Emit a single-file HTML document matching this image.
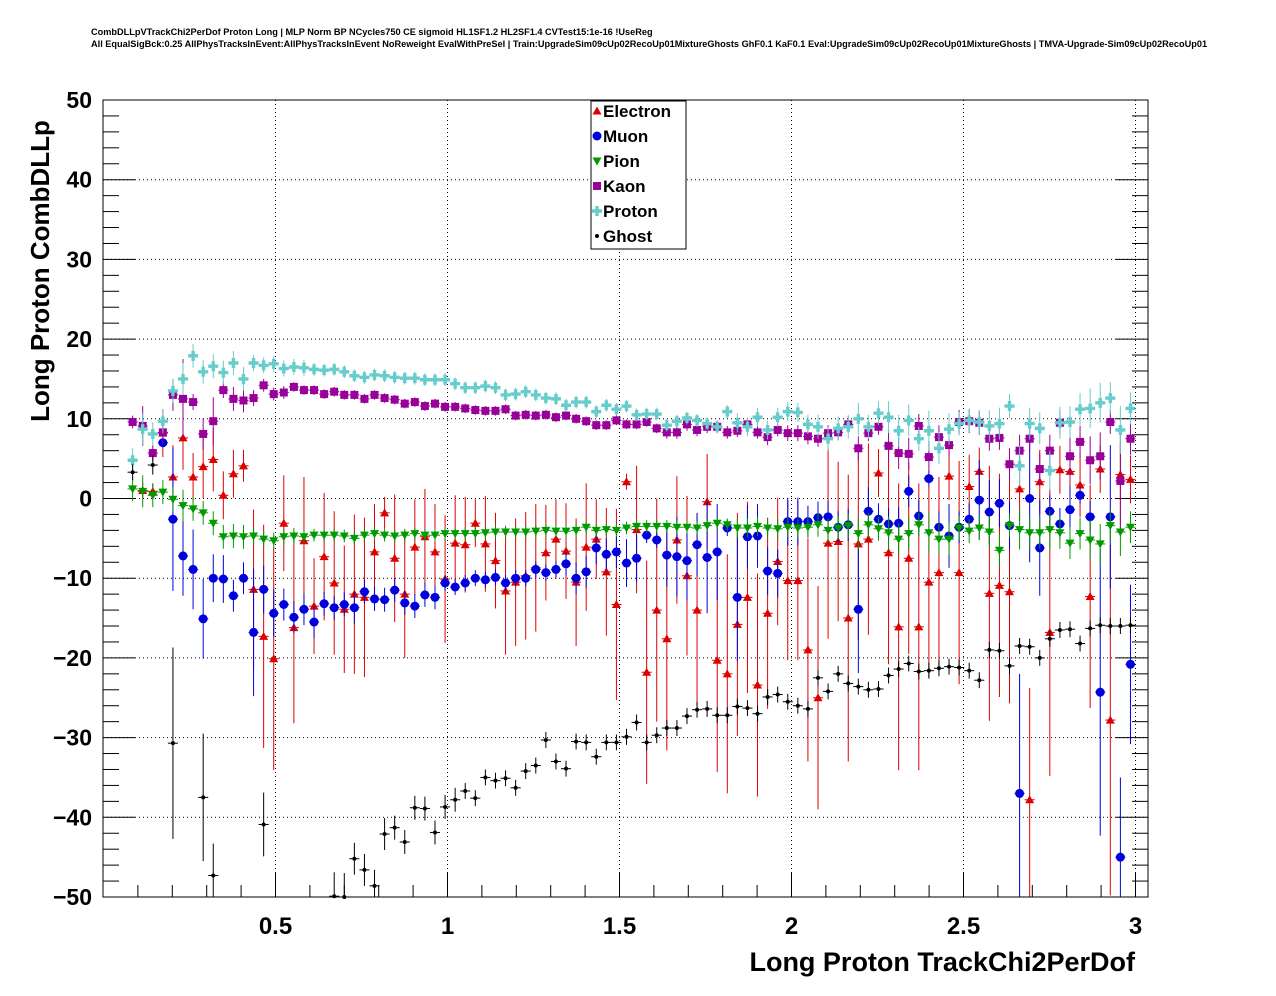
<!DOCTYPE html>
<html><head><meta charset="utf-8"><style>
html,body{margin:0;padding:0;background:#fff;}
svg{display:block;font-family:"Liberation Sans",sans-serif;}
</style></head><body>
<svg id="chart" width="1276" height="996" viewBox="0 0 1276 996">
<text x="91" y="35" font-size="9.2" font-weight="bold">CombDLLpVTrackChi2PerDof Proton Long | MLP Norm BP NCycles750 CE sigmoid HL1SF1.2 HL2SF1.4 CVTest15:1e-16 !UseReg</text>
<text x="91" y="47" font-size="9.2" font-weight="bold">All EqualSigBck:0.25 AllPhysTracksInEvent:AllPhysTracksInEvent NoReweight EvalWithPreSel | Train:UpgradeSim09cUp02RecoUp01MixtureGhosts GhF0.1 KaF0.1 Eval:UpgradeSim09cUp02RecoUp01MixtureGhosts | TMVA-Upgrade-Sim09cUp02RecoUp01</text>
<g id="grid"></g>
<g id="axes"></g>
<g id="marks"></g>
<rect x="103" y="100" width="1045" height="797" fill="none" stroke="#000" stroke-width="1"/>
<text x="1135" y="971" font-size="27" font-weight="bold" text-anchor="end">Long Proton TrackChi2PerDof</text>
<text transform="translate(49,271) rotate(-90)" font-size="26" font-weight="bold" text-anchor="middle">Long Proton CombDLLp</text>
<g id="legend"></g>
</svg>
<script>
const NS="http://www.w3.org/2000/svg";
const xMin=0.07, xMax=3.0, nBins=100;
const xTicks=[0.5,1,1.5,2,2.5,3];
const xTickLabels=["0.5","1","1.5","2","2.5","3"];
const yTicks=[-50,-40,-30,-20,-10,0,10,20,30,40,50];
const yTickLabels=["\u221250","\u221240","\u221230","\u221220","\u221210","0","10","20","30","40","50"];
const seriesNames=["Electron","Muon","Pion","Kaon","Proton","Ghost"];
const N=null;
const electron=[N,1.0,0.9,8.2,2.7,7.6,2.7,4.0,4.9,0.4,3.1,4.1,-11.4,-17.3,-20.1,-3.1,-16.2,-5.3,-13.5,-7.3,-10.6,-13.9,-12.0,-12.4,-6.7,-1.8,-7.5,-12.0,-6.1,-4.8,-6.7,
-10.1,-5.6,-5.8,-3.1,-5.7,-7.8,-11.6,-10.5,-9.7,-8.7,-6.8,-5.1,-6.6,-10.5,-6.1,-5.1,-9.2,-13.3,2.1,-3.9,-21.8,-14.0,-17.6,-5.2,-9.7,-14.0,-0.4,-20.3,-22.0,-15.8,-12.4,-23.4,-14.4,-7.9,-10.3,
-10.3,-19.0,-25.0,-5.6,-5.4,-15.0,-5.7,-5.1,3.2,-6.8,-16.1,-7.5,-16.1,-10.5,-9.3,2.8,-9.3,1.5,3.4,-11.9,-10.9,-11.7,1.2,-37.8,2.1,-16.8,3.6,3.4,1.7,-12.3,3.7,-27.8,3.0,2.4];
const electronErr=[0,1,1,3,4,4,3,4,4,3,3,2,10,14,14,6,12,8,6,8,9,8,10,10,6,2,8,8,6,6,6,
8,6,6,3,6,6,8,8,8,8,6,5,6,8,8,5,8,12,1,8,14,14,14,8,10,12,6,14,15,14,12,14,12,8,10,
10,14,14,12,10,18,12,12,3,14,18,12,18,12,12,3,14,4,3,16,14,14,4,14,4,18,3,3,4,14,3,22,4,3];
const muon=[N,N,N,7.0,-2.6,-7.2,-8.9,-15.1,-10.0,-10.1,-12.2,-10.0,-16.8,-11.4,-14.4,-13.3,-14.9,-13.9,-15.5,-13.2,-13.7,-13.3,-13.7,-11.7,-12.6,-12.7,-11.5,-13.1,-13.5,-12.1,-12.4,
-10.6,-11.1,-10.6,-10.0,-10.2,-9.9,-10.6,-10.0,-10.0,-8.9,-9.3,-8.9,-8.2,-10.0,-9.2,-6.2,-7.0,-6.7,-8.1,-7.5,-4.6,-5.2,-7.1,-7.3,-7.8,-5.8,-7.4,-6.7,-3.7,-12.4,-4.8,-4.7,-9.1,-9.4,-2.9,
-2.9,-2.9,-2.4,-2.3,-3.6,-3.3,-13.9,-1.6,-2.6,-3.2,-3.1,0.9,-2.2,2.5,-3.6,-4.7,-3.6,-2.6,-0.2,-1.7,-0.6,-3.4,-37.0,0.0,-6.2,-1.6,-3.2,-1.4,0.4,-2.3,-24.3,-2.3,-45.0,-20.8];
const muonErr=[0,0,0,0.5,9,5,5,5,3,3,2,2,8,3,3,2,2,2,2,1.5,1.5,1.5,2,1.5,1.5,1.5,1.5,1.5,1.5,1.5,1.5,
1,1,1,1,1,1,1,1,1,1,1,1,1.5,2,2,2,2,2,3,3,1,1,4,5,5,4,7,6,1,8,4,4,3,3,3,
3,2,2,2,2,2,8,3,2,2,2,2,2,1,2,4,2,2,5,4,3,3,15,8,6,2,2,3,1,2,18,9,10,10];
const pion=[1.2,0.9,0.4,0.8,-0.1,-0.9,-1.3,-1.8,-3.1,-4.8,-4.7,-4.8,-4.7,-5.1,-5.3,-4.8,-4.7,-4.8,-4.6,-4.6,-4.6,-4.7,-5.0,-4.6,-4.4,-4.6,-4.7,-4.6,-4.4,-4.6,-4.6,
-4.4,-4.4,-4.4,-4.4,-4.3,-4.2,-4.2,-4.2,-4.2,-4.1,-4.0,-4.1,-4.1,-4.0,-3.6,-4.0,-3.9,-4.0,-3.7,-3.5,-3.5,-3.5,-3.5,-3.6,-3.6,-3.7,-3.4,-3.1,-3.3,-3.7,-3.7,-3.5,-3.7,-3.8,-3.6,
-3.7,-3.6,-3.3,-4.0,-3.7,-3.4,-4.4,-3.3,-3.8,-4.3,-5.1,-4.4,-3.3,-4.3,-5.1,-5.1,-3.7,-4.1,-3.7,-4.2,-6.5,-3.4,-3.9,-4.3,-4.3,-3.9,-4.3,-5.6,-4.4,-5.2,-5.7,-3.4,-4.2,-3.6];
const kaon=[9.6,9.1,5.7,8.3,13.0,12.5,12.1,8.1,9.7,13.6,12.5,12.3,12.6,14.2,13.1,13.3,14.0,13.6,13.6,13.1,13.4,13.0,13.0,12.5,13.0,12.6,12.4,11.9,12.1,11.6,11.9,
11.5,11.5,11.3,11.1,11.0,11.0,11.2,10.4,10.5,10.4,10.5,10.2,10.4,10.0,9.7,9.2,9.2,9.8,9.3,9.3,9.6,8.8,8.3,8.3,9.3,8.6,9.0,9.0,8.3,8.5,9.3,8.3,7.7,8.6,8.2,
8.2,7.8,7.5,8.2,8.3,9.3,6.3,8.2,9.0,6.6,5.7,5.6,9.1,5.2,7.7,6.7,9.6,9.7,9.5,7.5,7.6,4.3,6.0,7.5,3.7,6.0,9.5,5.3,7.1,4.8,5.3,9.6,2.2,7.5];
const proton=[4.8,8.7,8.1,9.7,13.5,15.0,17.9,15.9,16.6,15.8,17.0,15.0,17.0,16.7,16.9,16.3,16.5,16.4,16.2,16.1,16.2,15.9,15.4,15.2,15.5,15.4,15.2,15.1,15.1,14.9,14.9,
14.9,14.4,13.9,13.9,14.1,13.9,13.0,13.1,13.4,13.0,12.6,12.5,11.7,12.1,12.1,10.9,11.7,11.2,11.6,10.5,10.6,10.6,9.2,9.7,10.1,9.8,9.4,9.0,10.9,9.5,9.0,10.2,8.6,10.2,10.9,
10.8,9.3,9.0,7.5,8.8,9.0,10.0,9.0,10.7,10.2,8.5,9.8,7.5,8.5,6.3,8.7,9.4,9.8,9.6,9.1,9.4,11.6,4.1,9.4,8.8,3.5,9.5,9.6,11.2,11.3,12.0,12.6,8.6,11.3];
const ghost=[3.3,N,4.2,N,-30.7,N,N,-37.5,-47.3,N,N,N,N,-40.9,N,N,N,N,N,N,-49.9,-50.0,-45.2,-46.6,-48.6,-42.1,-41.3,-43.1,-38.8,-38.9,-41.9,
-38.7,-37.8,-36.7,-37.6,-35.0,-35.4,-35.1,-36.3,-34.2,-33.5,-30.3,-33.0,-33.9,-30.5,-30.6,-32.4,-30.6,-30.6,-29.9,-28.1,-30.6,-29.7,-28.8,-28.8,-27.3,-26.5,-26.4,-27.2,-27.2,-26.1,-26.3,-27.0,-24.9,-24.6,-25.5,
-26.0,-26.4,-22.5,-24.2,-22.0,-23.2,-23.6,-24.0,-23.9,-22.2,-21.4,-20.7,-21.7,-21.6,-21.3,-21.1,-21.2,-21.6,-22.8,-19.0,-19.1,-21.0,-18.5,-18.6,-20.0,-17.6,-16.5,-16.4,-18.2,-16.3,-15.9,-16.0,-16.0,-15.9];
const ghostErr=[1,0,1.2,0,12,0,0,8,4,0,0,0,0,4,0,0,0,0,0,0,3,3,2,2,2,2,1.5,1.5,1.5,1.5,1.5,
1.5,1.5,1,1,1,1,1,1,1,1,1,1,1,1,1,1,1,1,1,1,1,1,1,1,1,1,1,1,1,1,1,1,1,1,1,
1,1,1,1,1,1,1,1,1,1,1,1,1,1,1,1,1,1,1,1,1,1,1,1,1,1,1,1,1,1,1,1,1,1];
const smallErr=[1.5,2,1.5,1.5,1.5,2,1.5,1.5,1.5,1.5,1.5,1.5,1,1,1,1,1,1,0.8,0.8,0.8,0.8,0.8,0.8,0.8,0.8,0.8,0.8,0.8,0.8,0.8,
0.8,0.8,0.8,0.8,0.8,0.8,0.8,0.8,0.8,0.8,0.8,0.8,0.8,0.8,0.8,0.8,0.8,0.8,0.8,0.8,0.8,0.8,0.8,0.8,0.8,0.8,0.8,0.8,0.8,1.2,1.2,1.2,1.2,1.2,1.2,
1.2,1.2,1.5,1.5,1.5,1.5,2,1.5,1.5,2,2,2,1.5,2.5,2,2,1.5,1.5,1.5,2,2,1.5,2.5,2,2,2.5,2,2,2,2.5,2.5,2,3,2];
const kaonErr=[0.8,2.5,1,1.5,2,5,1,2,3,1,1.5,1.5,1,0.8,0.8,0.8,0.6,0.6,0.6,0.6,0.6,0.6,0.6,0.6,0.6,0.6,0.6,0.6,0.6,0.6,0.6,
0.6,0.6,0.6,0.6,0.6,0.6,0.6,0.6,0.6,0.6,0.6,0.6,0.6,0.6,0.6,0.6,0.6,0.6,0.6,0.6,0.6,0.6,0.8,0.8,0.8,0.8,0.8,0.8,0.8,0.8,0.8,0.8,1,0.8,1,
1,1,1,1,1,1,1.5,1,1,2,2,2,1.5,2,1.5,1.5,1.5,1.5,1.5,1.5,1.5,2,2,1.5,2,2,1.5,3,2,3,3,1.5,6,2];

const X0=103.5, PX=344, Y0=498.5, PY=7.97;
const sx=v=>X0+(v-0)*PX;
const sy=v=>Y0-v*PY;
const yTop=100, yBot=897, xL=103, xR=1148;
const clampY=y=>Math.max(yTop,Math.min(yBot,y));
const binW=(xMax-xMin)/nBins;
const binCenter=i=>xMin+binW*(i+0.5);

function mk(tag,attrs,parent){const e=document.createElementNS(NS,tag);for(const k in attrs)e.setAttribute(k,attrs[k]);parent.appendChild(e);return e;}
const grid=document.getElementById('grid'), axes=document.getElementById('axes'), marks=document.getElementById('marks'), legend=document.getElementById('legend');

xTicks.forEach((t,k)=>{
  const x=sx(t);
  const g=mk('line',{x1:x,x2:x,y1:yTop,y2:yBot,stroke:'#000','stroke-width':1,'stroke-dasharray':'1,3'},grid);
  
  
  const tl=mk('text',{x:x,y:934,'font-size':24,'font-weight':'bold','text-anchor':'middle'},axes);
  tl.textContent=xTickLabels[k];
  
  
});
for(let v=0.1;v<=3.03;v+=0.1){
  const x=sx(v); const major=Math.abs(v*2-Math.round(v*2))<1e-6;
  mk('line',{x1:x,x2:x,y1:yBot,y2:yBot-(major?24:12),stroke:'#000','stroke-width':1},axes);
}
yTicks.forEach((t,k)=>{
  const y=sy(t);
  if(t>-50&&t<50){const g=mk('line',{x1:xL,x2:xR,y1:y,y2:y,stroke:'#000','stroke-width':1,'stroke-dasharray':'1,3'},grid);
  
  }
  const tl=mk('text',{x:92,y:y+8,'font-size':23,'font-weight':'bold','text-anchor':'end'},axes);
  tl.textContent=yTickLabels[k];
  
  
});
for(let v=-50;v<=50;v+=2){
  const y=sy(v); const major=v%10===0;
  mk('line',{x1:xL,x2:xL+(major?32:16),y1:y,y2:y,stroke:'#000','stroke-width':1},axes);
  mk('line',{x1:xR,x2:xR-(major?32:16),y1:y,y2:y,stroke:'#000','stroke-width':1},axes);
}

function marker(type,x,y,c,parent){
  let e;
  if(type==='tup') e=mk('polygon',{points:`${x},${y-4.5} ${x-4.5},${y+3.5} ${x+4.5},${y+3.5}`,fill:c},parent);
  else if(type==='tdn') e=mk('polygon',{points:`${x},${y+4.5} ${x-4.5},${y-3.5} ${x+4.5},${y-3.5}`,fill:c},parent);
  else if(type==='circ') e=mk('circle',{cx:x,cy:y,r:4.5,fill:c},parent);
  else if(type==='sq') e=mk('rect',{x:x-4,y:y-4,width:8,height:8,fill:c},parent);
  else if(type==='cross') e=mk('path',{d:`M${x-5},${y-1.7}h3.3v-3.3h3.4v3.3h3.3v3.4h-3.3v3.3h-3.4v-3.3h-3.3z`,fill:c},parent);
  else e=mk('circle',{cx:x,cy:y,r:2,fill:c},parent);
  return e;
}
const defs=[
 {name:'Electron',vals:electron,err:electronErr,c:'#dd0000',m:'tup'},
 {name:'Muon',vals:muon,err:muonErr,c:'#0000dd',m:'circ'},
 {name:'Pion',vals:pion,err:smallErr,c:'#009900',m:'tdn'},
 {name:'Kaon',vals:kaon,err:kaonErr,c:'#990099',m:'sq'},
 {name:'Proton',vals:proton,err:smallErr,c:'#66cccc',m:'cross'},
 {name:'Ghost',vals:ghost,err:ghostErr,c:'#000000',m:'dot'}
];
defs.forEach(s=>{
  const g=mk('g',{},marks);
  
  
  s.vals.forEach((v,i)=>{
    if(v===null) return;
    const x=sx(binCenter(i)), y=sy(v), e=s.err[i]||0;
    if(y<yTop-2||y>yBot+2) return;
    const hw=binW*PX/2;
    mk('line',{x1:x-hw,x2:x+hw,y1:y,y2:y,stroke:s.c,'stroke-width':1},g);
    if(e>0) mk('line',{x1:x,x2:x,y1:clampY(sy(v+e)),y2:clampY(sy(v-e)),stroke:s.c,'stroke-width':1},g);
    const p=marker(s.m,x,y,s.c,g);
    
    
  });
});
const lb=mk('rect',{x:591,y:101,width:95,height:148,fill:'#fff',stroke:'#000','stroke-width':1},legend);


defs.forEach((s,k)=>{
  const y=111+25*k;
  const g=mk('g',{},legend);
  
  
  marker(s.m,597,y,s.c,g);
  const t=mk('text',{x:603,y:y+6,'font-size':17,'font-weight':'bold'},g);
  t.textContent=s.name;
});
</script>
</body></html>
